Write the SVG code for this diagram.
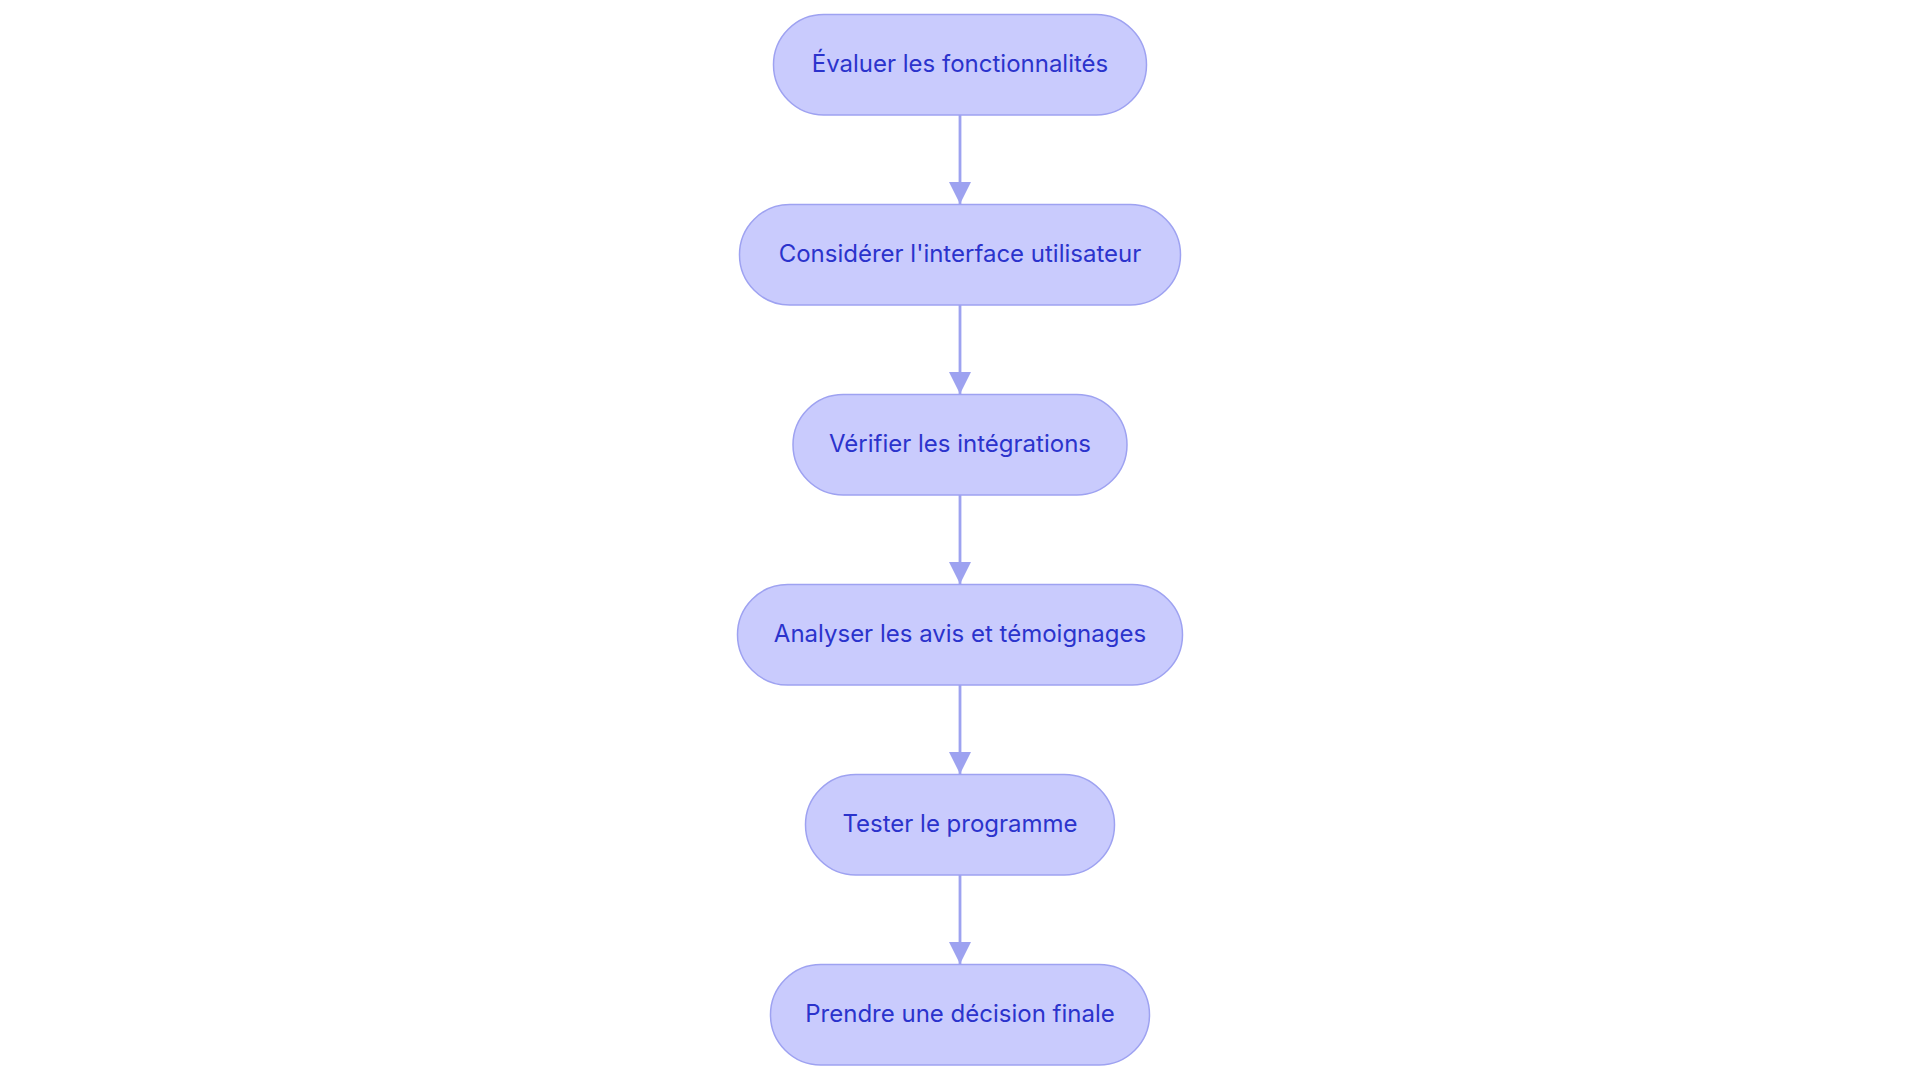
<svg xmlns="http://www.w3.org/2000/svg" width="1920" height="1083" viewBox="0 0 1920 1083">
<style>
.node rect{fill:#c9cbfd;stroke:#9ea2f1;stroke-width:1.5}
.node text{font-family:Inter,"Noto Sans",sans-serif;font-size:24px;font-weight:400;fill:#2b33cc;text-anchor:middle}
.edge{stroke:#9da2f0;stroke-width:2.8;fill:none}
</style>
<defs>
<marker id="ah" markerWidth="22" markerHeight="22" viewBox="0 0 22 22" refX="22" refY="11" orient="auto" markerUnits="userSpaceOnUse">
<path d="M0,0 L22,11 L0,22 z" fill="#9da2f0"/>
</marker>
</defs>
<rect width="1920" height="1083" fill="#ffffff"/>
<g id="connectors">
<line class="edge" x1="960" y1="115" x2="960" y2="204" marker-end="url(#ah)"/>
<line class="edge" x1="960" y1="305" x2="960" y2="394" marker-end="url(#ah)"/>
<line class="edge" x1="960" y1="495" x2="960" y2="584" marker-end="url(#ah)"/>
<line class="edge" x1="960" y1="685" x2="960" y2="774" marker-end="url(#ah)"/>
<line class="edge" x1="960" y1="875" x2="960" y2="964" marker-end="url(#ah)"/>
</g>
<g id="n1" class="node"><rect x="773.5" y="14.5" width="373" height="100.5" rx="50.25"/><text x="960" y="71.5">Évaluer les fonctionnalités</text></g>
<g id="n2" class="node"><rect x="739.5" y="204.5" width="441" height="100.5" rx="50.25"/><text x="960" y="261.5">Considérer l'interface utilisateur</text></g>
<g id="n3" class="node"><rect x="793" y="394.5" width="334" height="100.5" rx="50.25"/><text x="960" y="451.5">Vérifier les intégrations</text></g>
<g id="n4" class="node"><rect x="737.5" y="584.5" width="445" height="100.5" rx="50.25"/><text x="960" y="641.5">Analyser les avis et témoignages</text></g>
<g id="n5" class="node"><rect x="805.5" y="774.5" width="309" height="100.5" rx="50.25"/><text x="960" y="831.5">Tester le programme</text></g>
<g id="n6" class="node"><rect x="770.5" y="964.5" width="379" height="100.5" rx="50.25"/><text x="960" y="1021.5">Prendre une décision finale</text></g>
</svg>
